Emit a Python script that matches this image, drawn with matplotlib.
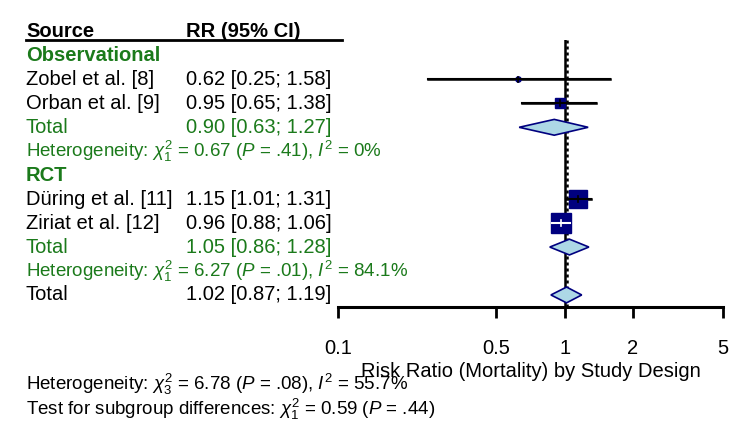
import matplotlib
matplotlib.use("Agg")
import matplotlib.pyplot as plt
from matplotlib.patches import Polygon
from matplotlib.lines import Line2D
from matplotlib.transforms import blended_transform_factory

# ---------------- data ----------------
study_names = ["Zobel et al. [8]", "Orban et al. [9]", "Düring et al. [11]", "Ziriat et al. [12]"]
study_rr = [0.62, 0.95, 1.15, 0.96]
study_lo = [0.25, 0.65, 1.01, 0.88]
study_hi = [1.58, 1.38, 1.31, 1.06]
study_rows = [2, 3, 7, 8]

group_names = ["Observational", "RCT"]
group_rows = [1, 6]

total_labels = ["Total", "Total", "Total"]
total_rr = [0.90, 1.05, 1.02]
total_lo = [0.63, 0.86, 0.87]
total_hi = [1.27, 1.28, 1.19]
total_rows = [4, 9, 11]

het_texts = [r"Heterogeneity: $\chi^2_1$ = 0.67 ($\it{P}$ = .41), $\it{I}^2$ = 0%",
             r"Heterogeneity: $\chi^2_1$ = 6.27 ($\it{P}$ = .01), $\it{I}^2$ = 84.1%"]
het_rows = [5, 10]

bottom_texts = [r"Heterogeneity: $\chi^2_3$ = 6.78 ($\it{P}$ = .08), $\it{I}^2$ = 55.7%",
                r"Test for subgroup differences: $\chi^2_1$ = 0.59 ($\it{P}$ = .44)"]

xticks = [0.1, 0.5, 1, 2, 5]
xtick_labels = ["0.1", "0.5", "1", "2", "5"]
xlabel = "Risk Ratio (Mortality) by Study Design"

# ---------------- styles ----------------
GREEN = "#1b7a1b"
NAVY = "#00007f"
LIGHT = "#add8e6"
square_sizes = [3.8, 7.8, 13, 14.5]       # marker sizes (pt)
square_markers = ["o", "s", "s", "s"]
ci_over_colors = ["black", "black", "black", "white"]
total_colors = [GREEN, GREEN, "black"]

plt.rcParams["font.family"] = ["Liberation Sans", "DejaVu Sans"]
plt.rcParams["mathtext.fontset"] = "custom"
plt.rcParams["mathtext.rm"] = "Liberation Sans"
plt.rcParams["mathtext.it"] = "Liberation Sans:italic"
plt.rcParams["mathtext.bf"] = "Liberation Sans:bold"

W, H = 750, 445
fig = plt.figure(figsize=(7.5, 4.45), dpi=100)

def fx(px):
    return px / W

def fy(py):
    return 1 - py / H

FS = 14.5
FS_HET = 13.5

# row -> pixel: y = 31.5 + 23.95*row
row0, rowstep = 31.5, 23.95
ax_top_px, ax_bot_px = 40, 307
ax = fig.add_axes([fx(338), fy(ax_bot_px), fx(723) - fx(338), (ax_bot_px - ax_top_px) / H])
ax.set_xscale("log")
ax.set_xlim(0.1, 5)
ax.set_ylim((ax_bot_px - row0) / rowstep, (ax_top_px - row0) / rowstep)
for s in ["top", "right", "left"]:
    ax.spines[s].set_visible(False)
ax.spines["bottom"].set_linewidth(2.2)
ax.set_yticks([])
ax.set_xticks(xticks)
ax.set_xticklabels(xtick_labels)
ax.xaxis.set_minor_locator(matplotlib.ticker.NullLocator())
ax.tick_params(axis="x", direction="out", length=8, width=2, pad=15, labelsize=FS)
ax.set_xlabel(xlabel, fontsize=FS, labelpad=3)
ax.patch.set_visible(False)

# reference lines
ax.axvline(1, color="black", lw=1.8, zorder=1)
ax.axvline(total_rr[2], color="black", lw=1.8, ls=(0, (1.2, 1.2)), zorder=1)

# studies
for i in range(len(study_rr)):
    y = study_rows[i]
    ax.plot([study_lo[i], study_hi[i]], [y, y], color="black", lw=1.8, zorder=2)
    ax.plot(study_rr[i], y, marker=square_markers[i], ms=square_sizes[i], color=NAVY,
            mec=NAVY, ls="none", zorder=3)
    ax.plot([study_lo[i], study_hi[i]], [y, y], color=ci_over_colors[i], lw=1.5, zorder=4)
    ax.plot([study_rr[i], study_rr[i]], [y - 0.12, y + 0.12], color=ci_over_colors[i], lw=1.2, zorder=4)

# diamonds
dh = 0.33
for i in range(len(total_rr)):
    y = total_rows[i]
    poly = Polygon([(total_lo[i], y), (total_rr[i], y - dh), (total_hi[i], y), (total_rr[i], y + dh)],
                   closed=True, facecolor=LIGHT, edgecolor=NAVY, lw=1.2, zorder=3)
    ax.add_patch(poly)

# left table text
tr = blended_transform_factory(fig.transFigure, ax.transData)
ax.text(fx(26), 0, "Source", transform=tr, fontsize=FS, fontweight="bold", va="center", clip_on=False)
ax.text(fx(186), 0, "RR (95% CI)", transform=tr, fontsize=FS, fontweight="bold", va="center", clip_on=False)
fig.add_artist(Line2D([fx(26), fx(342)], [fy(40), fy(40)], color="black", lw=2))

for g, r in zip(group_names, group_rows):
    ax.text(fx(26), r, g, transform=tr, fontsize=FS, fontweight="bold", color=GREEN, va="center", clip_on=False)

for i in range(len(study_names)):
    r = study_rows[i]
    ax.text(fx(26), r, study_names[i], transform=tr, fontsize=FS, va="center", clip_on=False)
    ax.text(fx(186), r, f"{study_rr[i]:.2f} [{study_lo[i]:.2f}; {study_hi[i]:.2f}]", transform=tr,
            fontsize=FS, va="center", clip_on=False)

for i in range(len(total_rr)):
    r = total_rows[i]
    ax.text(fx(26), r, total_labels[i], transform=tr, fontsize=FS, color=total_colors[i], va="center", clip_on=False)
    ax.text(fx(186), r, f"{total_rr[i]:.2f} [{total_lo[i]:.2f}; {total_hi[i]:.2f}]", transform=tr,
            fontsize=FS, color=total_colors[i], va="center", clip_on=False)

for t, r in zip(het_texts, het_rows):
    ax.text(fx(26), r, t, transform=tr, fontsize=FS_HET, color=GREEN, va="center", clip_on=False)

for k, t in enumerate(bottom_texts):
    fig.text(fx(26), fy(384 + 25 * k), t, fontsize=FS_HET, va="center")

fig.savefig("out.png", dpi=100)
